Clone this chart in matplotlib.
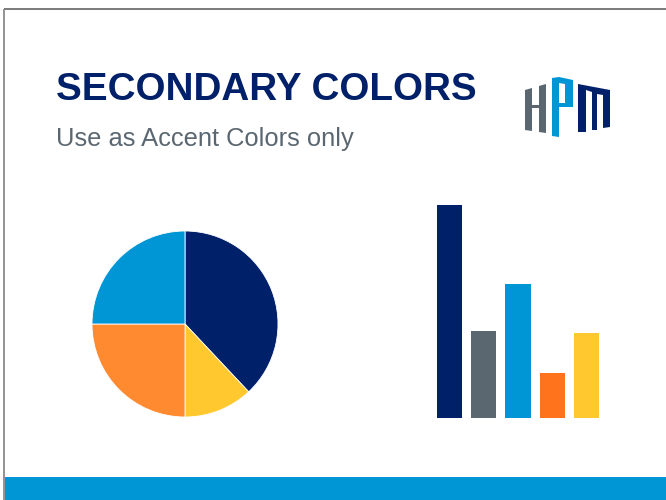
import matplotlib
matplotlib.use('Agg')
import matplotlib.pyplot as plt
from matplotlib import font_manager
from matplotlib.patches import Polygon, Rectangle

# palette
navy = '#002169'
gray = '#5B6770'
blue = '#0096D6'
orange_pie = '#FF8A30'
orange_bar = '#FF731C'
yellow = '#FFC82E'

# pie data (clockwise from top)
pie_vals = [38, 12, 25, 25]
pie_cols = [navy, yellow, orange_pie, blue]

# bar data
bar_vals = [100, 41, 63, 21, 40]
bar_cols = [navy, gray, blue, orange_bar, yellow]

title = 'SECONDARY COLORS'
subtitle = 'Use as Accent Colors only'

W, H = 666, 500
fig = plt.figure(figsize=(W / 100, H / 100), dpi=100, facecolor='white')

# full-figure overlay in pixel coords
bg = fig.add_axes([0, 0, 1, 1])
bg.set_xlim(0, W)
bg.set_ylim(H, 0)
bg.axis('off')

# frame lines and bottom band
bg.plot([3.5, W], [8.5, 8.5], color='#6f6f6f', lw=1.3, solid_capstyle='butt')
bg.plot([3.8, 3.8], [8.5, H], color='#8a8a8a', lw=1.3, solid_capstyle='butt')
bg.add_patch(Rectangle((5, 477), W - 5, 23, color=blue, lw=0))

# narrow font for the subtitle if we have it
try:
    font_manager.findfont('Liberation Sans Narrow', fallback_to_default=False)
    sub_family, sub_size = ['Liberation Sans Narrow', 'DejaVu Sans'], 22
except ValueError:
    sub_family, sub_size = ['Liberation Sans', 'DejaVu Sans'], 18.4

bg.text(56, 100, title, color=navy, fontsize=27.8,
        fontweight='bold', family=['Liberation Sans', 'DejaVu Sans'],
        va='baseline', ha='left')
bg.text(56, 146, subtitle, color=gray, fontsize=sub_size,
        family=sub_family, va='baseline', ha='left')

# logo
logo = [
    (gray, [(525, 90), (532, 88), (532, 131), (525, 130)]),
    (gray, [(532, 105), (539, 105), (539, 108), (532, 108)]),
    (gray, [(539, 86), (546, 84), (546, 133), (539, 132)]),
    (blue, [(552, 78), (559, 77), (559, 137), (552, 136)]),
    (blue, [(559, 77), (573, 80), (573, 107), (559, 107), (559, 103),
            (565, 103), (565, 84), (559, 83)]),
    (navy, [(578, 84), (610, 90), (610, 127), (603, 128), (603, 95),
            (597, 94), (597, 130), (592, 130), (592, 92), (586, 90),
            (586, 132), (578, 132)]),
]
for c, pts in logo:
    bg.add_patch(Polygon(pts, closed=True, color=c, lw=0))

# pie chart
cx, cy, r = 185, 324, 93
pax = fig.add_axes([(cx - r) / W, (H - cy - r) / H, 2 * r / W, 2 * r / H])
pax.pie(pie_vals, colors=pie_cols, startangle=90, counterclock=False,
        radius=1, wedgeprops=dict(linewidth=0.6, edgecolor='white'))
pax.set_xlim(-1, 1)
pax.set_ylim(-1, 1)
pax.set_aspect('equal')
pax.axis('off')

# bar chart
step = 34.25
x0 = 449.5 - step / 2
bax = fig.add_axes([x0 / W, (H - 418) / H, 5 * step / W, 213 / H])
bax.bar(range(len(bar_vals)), bar_vals, width=25 / step, color=bar_cols)
bax.set_xlim(-0.5, len(bar_vals) - 0.5)
bax.set_ylim(0, max(bar_vals))
bax.axis('off')

fig.savefig('out.png', dpi=100, facecolor='white')
